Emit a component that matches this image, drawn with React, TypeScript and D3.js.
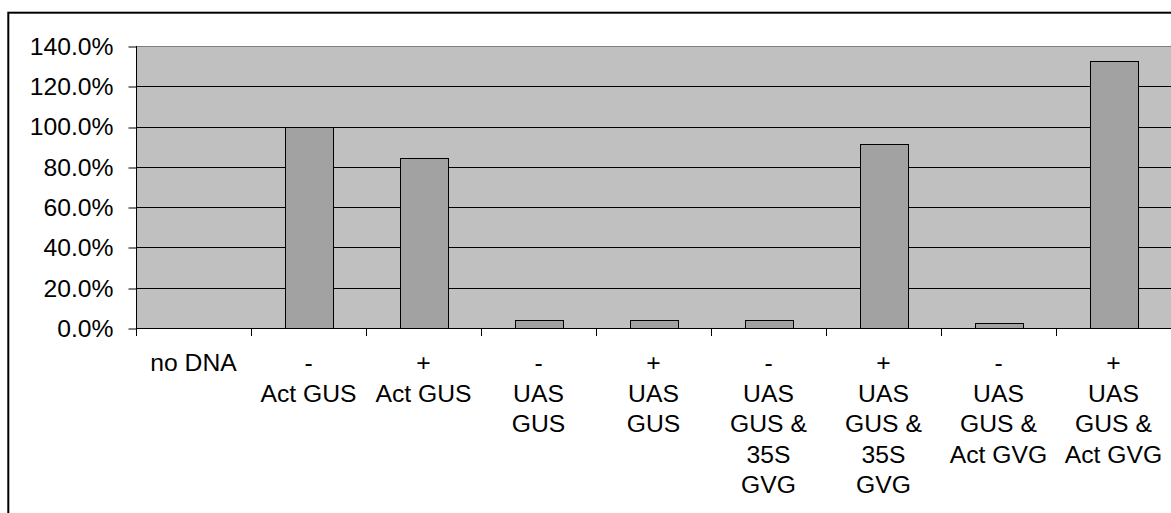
import React, { useEffect, useRef } from "react";
import * as d3 from "d3";

const categoryLines: string[][] = [
  ["no DNA"],
  ["-", "Act GUS"],
  ["+", "Act GUS"],
  ["-", "UAS", "GUS"],
  ["+", "UAS", "GUS"],
  ["-", "UAS", "GUS &", "35S", "GVG"],
  ["+", "UAS", "GUS &", "35S", "GVG"],
  ["-", "UAS", "GUS &", "Act GVG"],
  ["+", "UAS", "GUS &", "Act GVG"],
];
const values: number[] = [0, 100, 84.2, 3.9, 3.9, 3.9, 91.3, 2.6, 132.6];
const yTicks: number[] = [0, 20, 40, 60, 80, 100, 120, 140];

const W = 1171;
const H = 513;
const FONT = "'Liberation Sans', Arial, Helvetica, sans-serif";
const FS = 24.7;

export default function App() {
  const ref = useRef<SVGSVGElement>(null);

  useEffect(() => {
    const svg = d3.select(ref.current);
    svg.selectAll("*").remove();

    const left = 136, right = 1171, top = 46, bottom = 328;
    const ids = categoryLines.map((_, i) => String(i));
    const x = d3.scaleBand<string>().domain(ids).range([left, right]).padding(0);
    const y = d3.scaleLinear().domain([0, 140]).range([bottom, top]);
    const bw = x.bandwidth();
    const barW = bw * 0.415;

    // outer chart border
    svg.append("rect")
      .attr("x", 8.3).attr("y", 12.7)
      .attr("width", W + 20).attr("height", H + 20)
      .attr("fill", "#fff").attr("stroke", "#000").attr("stroke-width", 2);

    // plot area
    svg.append("rect")
      .attr("x", left).attr("y", top)
      .attr("width", right - left).attr("height", bottom - top)
      .attr("fill", "#c0c0c0");

    // gridlines
    svg.append("g").selectAll("line")
      .data(yTicks.filter((t) => t > 0 && t < 140))
      .join("line")
      .attr("x1", left).attr("x2", right)
      .attr("y1", (d) => Math.round(y(d)) + 0.5).attr("y2", (d) => Math.round(y(d)) + 0.5)
      .attr("stroke", "#000").attr("stroke-width", 1);

    // top border of plot
    svg.append("line")
      .attr("x1", left).attr("x2", right)
      .attr("y1", Math.round(y(140)) + 0.5).attr("y2", Math.round(y(140)) + 0.5)
      .attr("stroke", "#808080").attr("stroke-width", 1);

    // bars
    svg.append("g").selectAll("rect")
      .data(values.map((v, i) => ({ v, i })).filter((d) => d.v > 0))
      .join("rect")
      .attr("x", (d) => Math.round((x(String(d.i)) as number) + bw / 2 - barW / 2) + 0.5)
      .attr("y", (d) => Math.round(y(d.v)) + 0.5)
      .attr("width", Math.round(barW))
      .attr("height", (d) => Math.round(y(0)) - Math.round(y(d.v)))
      .attr("fill", "#a2a2a2")
      .attr("stroke", "#000")
      .attr("stroke-width", 1);

    // y axis
    const yAxis = d3.axisLeft(y)
      .tickValues(yTicks)
      .tickSize(8)
      .tickPadding(15)
      .tickFormat((d) => (d as number).toFixed(1) + "%");
    const yg = svg.append("g").attr("transform", `translate(${left + 0.5},0)`).call(yAxis);
    yg.select(".domain").remove();
    yg.selectAll(".tick line").attr("stroke", "#000")
      .attr("transform", (d: any) => `translate(0,${Math.round(y(d)) + 0.5 - y(d)})`);
    yg.selectAll(".tick text")
      .attr("font-family", FONT).attr("font-size", FS).attr("fill", "#000")
      .attr("dy", "0.34em");
    svg.append("line")
      .attr("x1", left + 0.5).attr("x2", left + 0.5)
      .attr("y1", top).attr("y2", bottom + 0.5)
      .attr("stroke", "#000");

    // x axis line
    svg.append("line")
      .attr("x1", left).attr("x2", right)
      .attr("y1", Math.round(y(0)) + 0.5).attr("y2", Math.round(y(0)) + 0.5)
      .attr("stroke", "#000");

    // x boundary ticks
    const bounds = ids.map((id) => x(id) as number);
    svg.append("g").selectAll("line")
      .data(bounds)
      .join("line")
      .attr("x1", (d) => Math.round(d) + 0.5).attr("x2", (d) => Math.round(d) + 0.5)
      .attr("y1", Math.round(y(0))).attr("y2", Math.round(y(0)) + 8)
      .attr("stroke", "#000");

    // x labels
    const lab = svg.append("g")
      .attr("font-family", FONT).attr("font-size", FS).attr("fill", "#000")
      .attr("text-anchor", "middle");
    categoryLines.forEach((lines, i) => {
      const cx = (x(String(i)) as number) + bw / 2;
      const t = lab.append("text").attr("x", cx).attr("y", 371);
      lines.forEach((ln, j) => {
        t.append("tspan").attr("x", cx).attr("y", 371 + j * 30.5).text(ln);
      });
    });
  }, []);

  return (
    <svg
      ref={ref}
      width={W}
      height={H}
      style={{ position: "absolute", left: 0, top: 0, background: "#fff" }}
    />
  );
}
